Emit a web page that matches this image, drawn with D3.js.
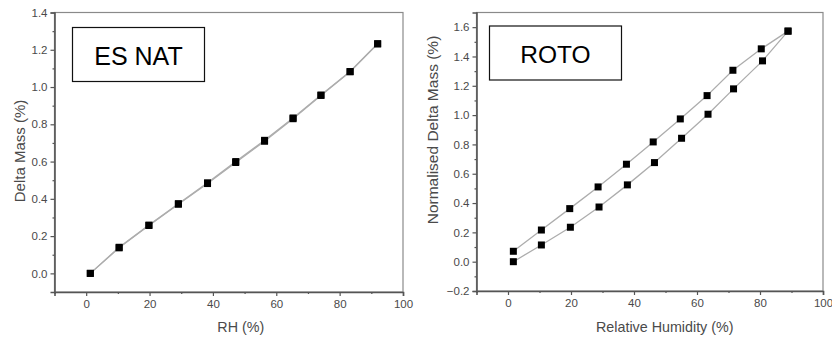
<!DOCTYPE html>
<html><head><meta charset="utf-8">
<script src="https://cdn.jsdelivr.net/npm/d3@7"></script>
<style>body{margin:0;background:#fff}svg{display:block}text{font-family:"Liberation Sans",Arial,sans-serif}</style>
</head><body><svg id="c" width="832" height="340"></svg>
<script>
// ES NAT (left)
const esRH = [1.3, 10.4, 19.8, 29.1, 38.3, 47.2, 56.3, 65.3, 74.1, 83.3, 92.0];
const esAds = [0.0, 0.137, 0.257, 0.371, 0.482, 0.595, 0.709, 0.830, 0.955, 1.082, 1.232];
const esDes = [0.0, 0.140, 0.259, 0.374, 0.486, 0.600, 0.714, 0.834, 0.957, 1.083, 1.232];
// ROTO (right)
const rotoRHAds = [1.7, 10.6, 19.8, 28.9, 37.9, 46.5, 55.1, 63.5, 71.6, 80.8, 88.9];
const rotoAds = [0.0, 0.114, 0.235, 0.373, 0.524, 0.676, 0.842, 1.006, 1.179, 1.370, 1.573];
const rotoRHDes = [1.7, 10.6, 19.6, 28.6, 37.6, 46.1, 54.7, 63.2, 71.4, 80.4, 88.9];
const rotoDes = [0.071, 0.216, 0.362, 0.510, 0.665, 0.817, 0.974, 1.133, 1.306, 1.452, 1.573];
const xTicks = [0, 20, 40, 60, 80, 100];
const esYTicks = [0.0, 0.2, 0.4, 0.6, 0.8, 1.0, 1.2, 1.4];
const rotoYTicks = [-0.2, 0.0, 0.2, 0.4, 0.6, 0.8, 1.0, 1.2, 1.4, 1.6];

const svg = d3.select("#c");

function panel(o) {
  const g = svg.append("g");
  const x = d3.scaleLinear().domain([-10, 100]).range([o.left, o.right]);
  const y = d3.scaleLinear().domain(o.yDomain).range([o.bottom, o.top]);
  g.append("rect").attr("x", o.left).attr("y", o.top).attr("width", o.right - o.left).attr("height", o.bottom - o.top)
    .attr("fill", "none").attr("stroke", "#8a8a8a").attr("stroke-width", 1.2);
  g.append("g").attr("transform", `translate(0,${o.bottom})`)
    .call(d3.axisBottom(x).tickValues(xTicks).tickSize(4).tickPadding(4).tickFormat(d3.format("d")));
  g.append("g").attr("transform", `translate(0,${o.bottom})`)
    .call(d3.axisBottom(x).tickValues([-10, 10, 30, 50, 70, 90]).tickSize(2).tickFormat(""))
    .call(s => s.select(".domain").remove());
  const ya = g.append("g").attr("transform", `translate(${o.left},0)`)
    .call(d3.axisLeft(y).tickValues(o.yTicks).tickSize(4).tickPadding(3).tickFormat(d3.format(".1f")));
  g.append("g").attr("transform", `translate(${o.left},0)`)
    .call(d3.axisLeft(y).tickValues(o.yMinor).tickSize(2).tickFormat(""))
    .call(s => s.select(".domain").remove());
  g.selectAll(".domain").attr("stroke", "#555").attr("stroke-width", 1.6);
  g.selectAll(".tick line").attr("stroke", "#555").attr("stroke-width", 1.2);
  g.selectAll(".tick text").attr("fill", "#4a4a4a").style("font-size", "11.5px");
  ya.selectAll(".tick text").text(d => d < 0 ? "\u2212" + Math.abs(d).toFixed(1) : d.toFixed(1));
  g.append("text").attr("x", (o.left + o.right) / 2 + o.xTitleDx).attr("y", 332).attr("text-anchor", "middle")
    .attr("fill", "#4a4a4a").style("font-size", "14.3px").text(o.xTitle);
  g.append("text").attr("transform", `translate(${o.yTitleX},${o.yTitleY}) rotate(-90)`).attr("text-anchor", "middle")
    .attr("fill", "#4a4a4a").style("font-size", o.yTitleSize).text(o.yTitle);
  const line = d3.line().x(d => x(d[0])).y(d => y(d[1]));
  o.series.forEach(s => {
    const pts = s.xs.map((v, i) => [v, s.ys[i]]);
    g.append("path").datum(pts).attr("d", line).attr("fill", "none").attr("stroke", "#adadad").attr("stroke-width", 1.3);
  });
  o.series.forEach(s => {
    const pts = s.xs.map((v, i) => [v, s.ys[i]]);
    g.selectAll(null).data(pts).enter().append("rect")
      .attr("x", d => x(d[0]) - 3.5).attr("y", d => y(d[1]) - 3.5).attr("width", 7).attr("height", 7).attr("fill", "#000");
  });
  g.append("rect").attr("x", o.box[0]).attr("y", o.box[1]).attr("width", o.box[2]).attr("height", o.box[3])
    .attr("fill", "#fff").attr("stroke", "#111").attr("stroke-width", 1.2);
  g.append("text").attr("x", o.box[0] + o.box[2] / 2).attr("y", o.box[1] + 37).attr("text-anchor", "middle")
    .attr("fill", "#000").style("font-size", o.labelSize).text(o.label);
}

panel({
  left: 54.5, right: 403, top: 12.5, bottom: 292,
  yDomain: [-0.1, 1.4], yTicks: esYTicks, yMinor: [0.1, 0.3, 0.5, 0.7, 0.9, 1.1, 1.3],
  xTitle: "RH (%)", xTitleDx: 12, yTitle: "Delta Mass (%)", yTitleX: 24.5, yTitleY: 151, yTitleSize: "15px",
  series: [{xs: esRH, ys: esAds}, {xs: esRH, ys: esDes}],
  box: [72.5, 27.5, 132, 54], label: "ES NAT", labelSize: "25px"
});
panel({
  left: 476.5, right: 823, top: 12.5, bottom: 291,
  yDomain: [-0.2, 1.7], yTicks: rotoYTicks, yMinor: [-0.1, 0.1, 0.3, 0.5, 0.7, 0.9, 1.1, 1.3, 1.5],
  xTitle: "Relative Humidity (%)", xTitleDx: 15, yTitle: "Normalised Delta Mass (%)", yTitleX: 438, yTitleY: 130, yTitleSize: "15.5px",
  series: [{xs: rotoRHAds, ys: rotoAds}, {xs: rotoRHDes, ys: rotoDes}],
  box: [489.5, 26, 132, 54], label: "ROTO", labelSize: "24.5px"
});
</script></body></html>
